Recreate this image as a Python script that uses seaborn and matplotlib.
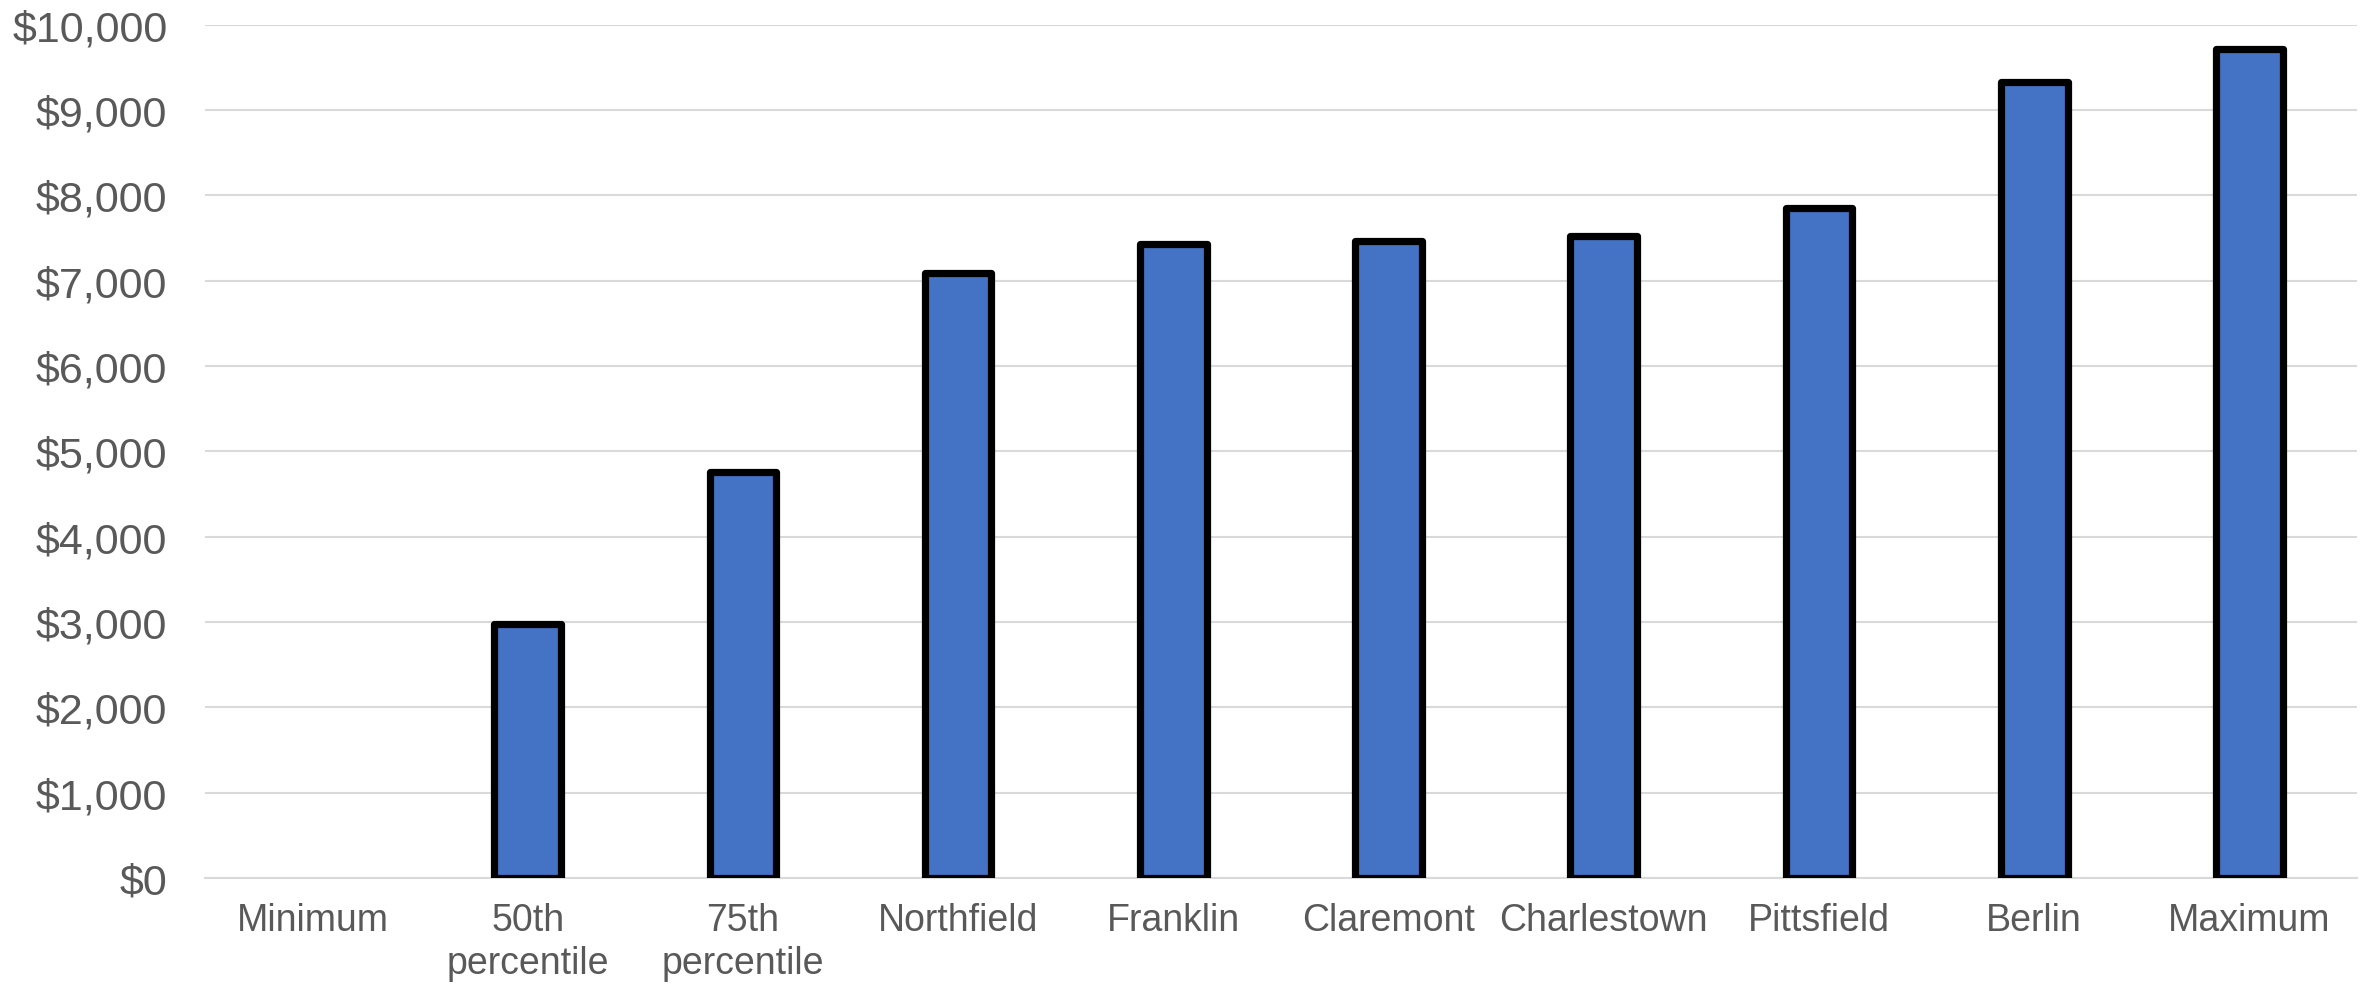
import matplotlib
matplotlib.use("Agg")
import matplotlib.pyplot as plt
import seaborn as sns
import pandas as pd
from matplotlib.ticker import FuncFormatter, MultipleLocator

categories = ["Minimum", "50th\npercentile", "75th\npercentile", "Northfield", "Franklin",
              "Claremont", "Charlestown", "Pittsfield", "Berlin", "Maximum"]
values = [0, 2975, 4760, 7095, 7425, 7470, 7525, 7855, 9330, 9720]

sns.set_theme(style="white")
plt.rcParams["font.family"] = ["Liberation Sans", "DejaVu Sans"]

df = pd.DataFrame({"category": categories, "value": values})

fig = plt.figure(figsize=(23.66, 9.87), dpi=100)
ax = fig.add_axes([0.0866, 0.1094, 0.9096, 0.8646])

sns.barplot(data=df, x="category", y="value", ax=ax, color="#4472C4", saturation=1,
            edgecolor="black", linewidth=5.2, width=0.31, zorder=3)

for p, v in zip(ax.patches, values):
    p.set_joinstyle("round")
    if v == 0:
        p.set_linewidth(0)

ax.set_ylim(0, 10000)
ax.set_xlim(-0.5, len(categories) - 0.5)
ax.yaxis.set_major_locator(MultipleLocator(1000))
ax.yaxis.set_major_formatter(FuncFormatter(lambda x, pos: f"${x:,.0f}"))
ax.grid(axis="y", color="#D9D9D9", linewidth=1.5, zorder=0)
ax.set_axisbelow(True)
for s in ["top", "right", "left"]:
    ax.spines[s].set_visible(False)
ax.spines["bottom"].set_color("#D9D9D9")
ax.spines["bottom"].set_linewidth(1.5)
ax.spines["bottom"].set_zorder(1)

ax.set_xlabel("")
ax.set_ylabel("")
ax.tick_params(axis="y", length=0, pad=27, labelsize=31, labelcolor="#595959")
ax.tick_params(axis="x", length=0, pad=17, labelsize=27, labelcolor="#595959")
for t in ax.get_xticklabels():
    t.set_linespacing(1.25)

fig.savefig("out.png", dpi=100)
